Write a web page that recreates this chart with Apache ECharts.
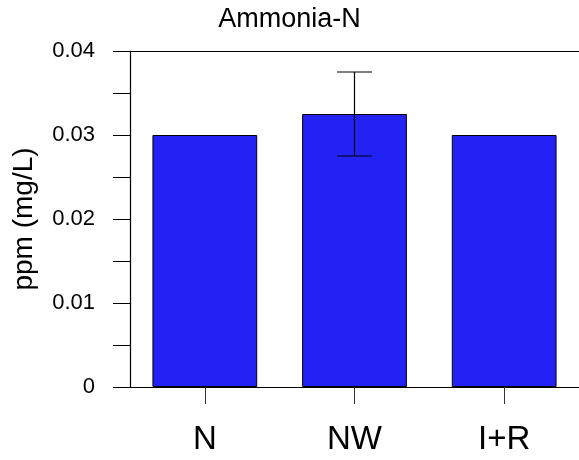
<!DOCTYPE html>
<html><head><meta charset="utf-8">
<script src="https://cdn.jsdelivr.net/npm/echarts@6/dist/echarts.min.js"></script>
<style>html,body{margin:0;padding:0;background:#fff}#c{width:579px;height:460px}</style>
</head><body><div id="c"></div>
<script>
const categories = ['N', 'NW', 'I+R'];
const values = [0.030, 0.0325, 0.030];
const errors = [0, 0.005, 0];
const yTicks = [0, 0.01, 0.02, 0.03, 0.04];
const titleText = 'Ammonia-N';
const yName = 'ppm (mg/L)';

const FONT = 'Liberation Sans, Arial, sans-serif';
const chart = echarts.init(document.getElementById('c'), null, {renderer: 'canvas'});
const errData = categories.map((c, i) => [i, values[i] - errors[i], values[i] + errors[i], errors[i]]);

chart.setOption({
  animation: false,
  backgroundColor: '#fff',
  title: {
    text: titleText, left: 'center', top: 1,
    textStyle: {fontFamily: FONT, fontSize: 27, fontWeight: 'normal', color: '#000'}
  },
  grid: {left: 130, top: 51, width: 451, height: 336, containLabel: false},
  xAxis: [{
    type: 'category', data: categories, position: 'bottom',
    axisLine: {show: true, lineStyle: {color: '#000', width: 1}},
    axisTick: {show: true, inside: false, length: 17, alignWithLabel: true, lineStyle: {color: '#333', width: 1}},
    axisLabel: {fontFamily: FONT, fontSize: 33, color: '#000', margin: 36},
    splitLine: {show: false}
  }, {
    type: 'category', data: categories, position: 'top',
    axisLine: {show: true, lineStyle: {color: '#000', width: 1}},
    axisTick: {show: false}, axisLabel: {show: false}, splitLine: {show: false}
  }],
  yAxis: {
    type: 'value', min: yTicks[0], max: yTicks[yTicks.length - 1], interval: 0.01,
    name: yName, nameLocation: 'middle', nameGap: 92, nameRotate: 90,
    nameTextStyle: {fontFamily: FONT, fontSize: 28, color: '#000'},
    axisLine: {show: true, lineStyle: {color: '#000', width: 1.2}},
    axisTick: {show: true, inside: false, length: 17, lineStyle: {color: '#000', width: 1}},
    minorTick: {show: true, splitNumber: 2, length: 17, lineStyle: {color: '#000', width: 1}},
    axisLabel: {fontFamily: FONT, fontSize: 22, color: '#000', margin: 35,
      formatter: v => (Math.round(v * 1000) / 1000).toString()},
    splitLine: {show: false}
  },
  series: [{
    type: 'bar', data: values, barWidth: '70%', xAxisIndex: 0,
    itemStyle: {color: '#2222f5', borderColor: '#000', borderWidth: 1}
  }, {
    type: 'custom', xAxisIndex: 0, data: errData, z: 10,
    renderItem: function (params, api) {
      if (api.value(3) === 0) return null;
      const x = api.value(0);
      const lo = api.coord([x, api.value(1)]);
      const hi = api.coord([x, api.value(2)]);
      const hw = 17.5;
      const style = {stroke: '#000', lineWidth: 1.2};
      return {type: 'group', children: [
        {type: 'line', shape: {x1: hi[0], y1: hi[1], x2: lo[0], y2: lo[1]}, style},
        {type: 'line', shape: {x1: hi[0] - hw, y1: hi[1], x2: hi[0] + hw, y2: hi[1]}, style},
        {type: 'line', shape: {x1: lo[0] - hw, y1: lo[1], x2: lo[0] + hw, y2: lo[1]}, style}
      ]};
    }
  }]
});
</script></body></html>
